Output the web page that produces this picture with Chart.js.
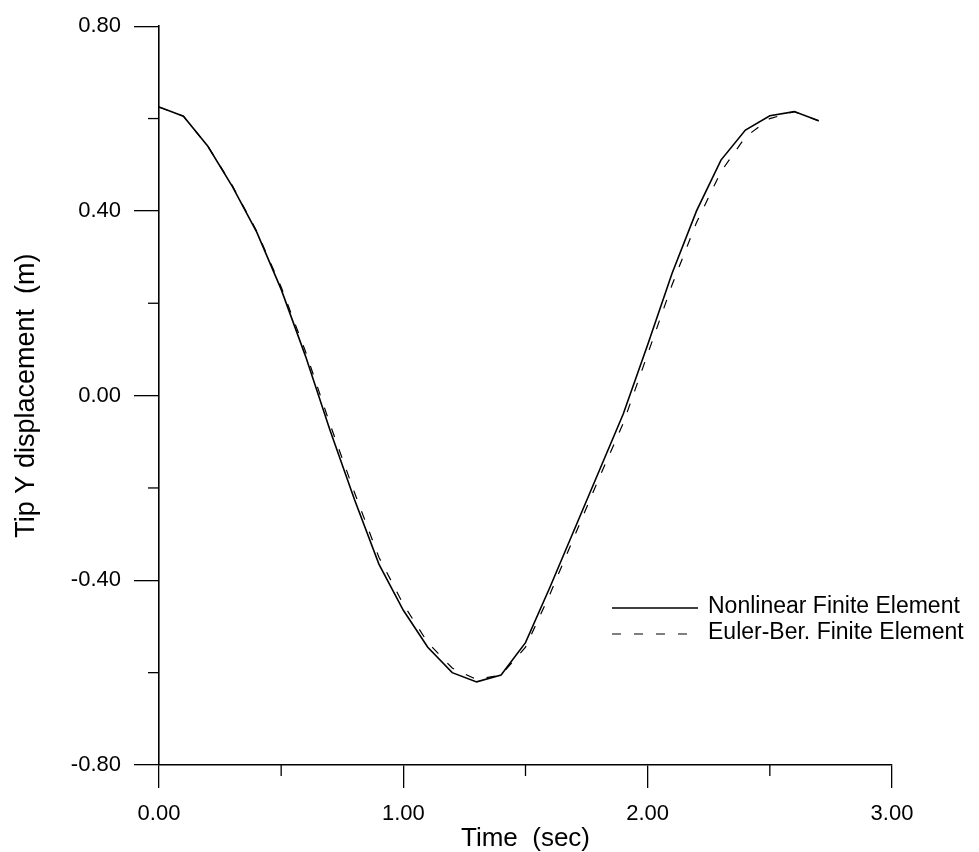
<!DOCTYPE html>
<html>
<head>
    <title>Tip Y displacement</title>
    <script src="https://cdn.jsdelivr.net/npm/chart.js"></script>
    <style>
        html, body { margin: 0; padding: 0; background: #fff; }
        #chart-container { width: 979px; height: 852px; }
    </style>
</head>
<body>
    <div id="chart-container">
        <canvas id="tip-chart"></canvas>
    </div>

    <script>
        // datos
        var tiempo = [0.0, 0.1, 0.2, 0.3, 0.4, 0.5, 0.6, 0.7, 0.8, 0.9,
                      1.0, 1.1, 1.2, 1.3, 1.4, 1.5, 1.6, 1.7, 1.8, 1.9,
                      2.0, 2.1, 2.2, 2.3, 2.4, 2.5, 2.6, 2.7];
        var noLineal = [0.625, 0.605, 0.540, 0.453, 0.354, 0.230, 0.085, -0.075, -0.225, -0.365,
                        -0.465, -0.545, -0.600, -0.620, -0.605, -0.535, -0.415, -0.290, -0.165, -0.040,
                        0.110, 0.265, 0.400, 0.510, 0.575, 0.606, 0.615, 0.595];
        var eulerBer = [0.625, 0.605, 0.540, 0.455, 0.356, 0.235, 0.095, -0.062, -0.210, -0.350,
                        -0.452, -0.535, -0.590, -0.615, -0.605, -0.545, -0.430, -0.305, -0.180, -0.060,
                        0.090, 0.240, 0.375, 0.485, 0.560, 0.600, 0.615, 0.595];
        var xTicks = [0, 1, 2, 3];
        var yTicks = [-0.8, -0.4, 0, 0.4, 0.8];
        var xMinor = [0.5, 1.5, 2.5];
        var yMinor = [-0.6, -0.2, 0.2, 0.6];

        var fuente = 'Liberation Sans, Arial, Helvetica, sans-serif';

        function puntos(ys) {
            var out = [];
            for (var i = 0; i < tiempo.length; i++) {
                out.push({ x: tiempo[i], y: ys[i] });
            }
            return out;
        }

        // marcas menores y leyenda dibujadas a mano
        var extras = {
            id: 'extras',
            afterDraw: function(chart) {
                var ctx = chart.ctx;
                var xs = chart.scales.x, ys = chart.scales.y;
                ctx.save();
                ctx.strokeStyle = '#000';
                ctx.lineWidth = 1.3;
                xMinor.forEach(function(v) {
                    var px = xs.getPixelForValue(v);
                    ctx.beginPath();
                    ctx.moveTo(px, xs.top);
                    ctx.lineTo(px, xs.top + 11);
                    ctx.stroke();
                });
                yMinor.forEach(function(v) {
                    var py = ys.getPixelForValue(v);
                    ctx.beginPath();
                    ctx.moveTo(ys.right, py);
                    ctx.lineTo(ys.right - 11, py);
                    ctx.stroke();
                });

                // leyenda
                var filas = [607, 633];
                ctx.font = '23px ' + fuente;
                ctx.fillStyle = '#000';
                ctx.textBaseline = 'middle';
                chart.data.datasets.forEach(function(ds, i) {
                    var y = filas[i];
                    ctx.beginPath();
                    ctx.lineWidth = ds.borderWidth;
                    ctx.setLineDash(ds.borderDash || []);
                    ctx.moveTo(612, y + 1);
                    ctx.lineTo(698, y + 1);
                    ctx.stroke();
                    ctx.setLineDash([]);
                    ctx.fillText(ds.label, 708, y);
                });
                ctx.restore();
            }
        };

        var ctx = document.getElementById('tip-chart').getContext('2d');
        var chart = new Chart(ctx, {
            type: 'line',
            data: {
                datasets: [{
                    label: 'Nonlinear Finite Element',
                    data: puntos(noLineal),
                    borderColor: '#000',
                    borderWidth: 1.6,
                    pointRadius: 0,
                    tension: 0,
                    fill: false
                }, {
                    label: 'Euler-Ber. Finite Element',
                    data: puntos(eulerBer),
                    borderColor: '#000',
                    borderWidth: 1.2,
                    borderDash: [9, 13],
                    pointRadius: 0,
                    tension: 0,
                    fill: false
                }]
            },
            options: {
                responsive: true,
                maintainAspectRatio: false,
                animation: false,
                layout: { padding: { top: 25, right: 87, left: 0, bottom: 0 } },
                plugins: {
                    legend: { display: false },
                    tooltip: { enabled: false }
                },
                scales: {
                    x: {
                        type: 'linear',
                        position: 'bottom',
                        min: 0,
                        max: 3,
                        afterBuildTicks: function(scale) {
                            scale.ticks = xTicks.map(function(v) { return { value: v }; });
                        },
                        afterFit: function(scale) { scale.height = 87; },
                        grid: {
                            drawOnChartArea: false,
                            tickLength: 23,
                            color: '#000',
                            lineWidth: 1.3
                        },
                        border: { color: '#000', width: 1.6 },
                        ticks: {
                            color: '#000',
                            padding: 13,
                            maxRotation: 0,
                            font: { family: fuente, size: 22 },
                            callback: function(v) { return v.toFixed(2); }
                        },
                        title: {
                            display: true,
                            text: 'Time  (sec)',
                            color: '#000',
                            font: { family: fuente, size: 26, lineHeight: 1 },
                            padding: { top: 0, bottom: 0 }
                        }
                    },
                    y: {
                        type: 'linear',
                        position: 'left',
                        min: -0.8,
                        max: 0.8,
                        afterBuildTicks: function(scale) {
                            scale.ticks = yTicks.map(function(v) { return { value: v }; });
                        },
                        afterFit: function(scale) { scale.width = 159; },
                        grid: {
                            drawOnChartArea: false,
                            tickLength: 25,
                            color: '#000',
                            lineWidth: 1.3
                        },
                        border: { color: '#000', width: 1.6 },
                        ticks: {
                            color: '#000',
                            padding: 13,
                            font: { family: fuente, size: 22 },
                            callback: function(v) { return v.toFixed(2); }
                        },
                        title: {
                            display: true,
                            text: 'Tip Y displacement  (m)',
                            color: '#000',
                            font: { family: fuente, size: 27, lineHeight: 1.2 },
                            padding: { top: 10, bottom: 0 }
                        }
                    }
                }
            },
            plugins: [extras]
        });
    </script>
</body>
</html>
